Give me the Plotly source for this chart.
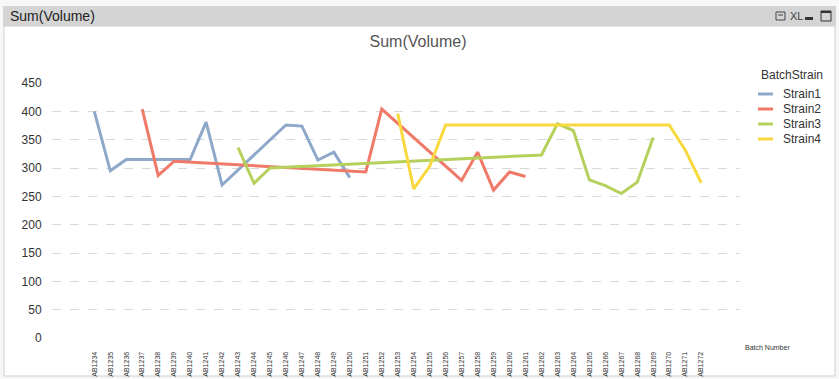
import plotly.graph_objects as go

categories = ["AB1234", "AB1235", "AB1236", "AB1237", "AB1238", "AB1239", "AB1240",
              "AB1241", "AB1242", "AB1243", "AB1244", "AB1245", "AB1246", "AB1247",
              "AB1248", "AB1249", "AB1250", "AB1251", "AB1252", "AB1253", "AB1254",
              "AB1255", "AB1256", "AB1257", "AB1258", "AB1259", "AB1260", "AB1261",
              "AB1262", "AB1263", "AB1264", "AB1265", "AB1266", "AB1267", "AB1268",
              "AB1269", "AB1270", "AB1271", "AB1272"]

strain1_x = ["AB1234", "AB1235", "AB1236", "AB1237", "AB1238", "AB1239", "AB1240",
             "AB1241", "AB1242", "AB1246", "AB1247", "AB1248", "AB1249", "AB1250"]
strain1_y = [400, 295, 315, 315, 315, 315, 315, 381, 270, 376, 374, 314, 328, 283]

strain2_x = ["AB1237", "AB1238", "AB1239", "AB1251", "AB1252", "AB1257", "AB1258",
             "AB1259", "AB1260", "AB1261"]
strain2_y = [404, 287, 312, 293, 404, 278, 328, 261, 293, 285]

strain3_x = ["AB1243", "AB1244", "AB1245", "AB1262", "AB1263", "AB1264", "AB1265",
             "AB1266", "AB1267", "AB1268", "AB1269"]
strain3_y = [336, 273, 300, 323, 378, 366, 279, 269, 255, 275, 354]

strain4_x = ["AB1253", "AB1254", "AB1255", "AB1256", "AB1270", "AB1271", "AB1272"]
strain4_y = [396, 263, 303, 376, 376, 332, 274]

y_ticks = [0, 50, 100, 150, 200, 250, 300, 350, 400, 450]

series_names = ["Strain1", "Strain2", "Strain3", "Strain4"]
series_colors = ["#8DA8C8", "#F07A69", "#B6D05C", "#F7D83E"]
series_x = [strain1_x, strain2_x, strain3_x, strain4_x]
series_y = [strain1_y, strain2_y, strain3_y, strain4_y]

W, H = 839, 379
L, R, T, B = 52, 740, 83, 338  # plot area in pixels

def px(x):
    return (x - L) / (R - L)

def py(y):
    return (B - y) / (B - T)

fig = go.Figure()
for name, xs, ys, color in zip(series_names, series_x, series_y, series_colors):
    fig.add_trace(go.Scatter(x=xs, y=ys, name=name, mode="lines", showlegend=False,
                             line=dict(color=color, width=3), connectgaps=True))

shapes = [
    dict(type="rect", xref="paper", yref="paper", x0=px(4), x1=px(835), y0=py(376), y1=py(26),
         fillcolor="white", line=dict(color="#cfcfcf", width=1), layer="below"),
    dict(type="rect", xref="paper", yref="paper", x0=px(3), x1=px(836), y0=py(26), y1=py(6),
         fillcolor="#d4d4d4", line=dict(width=0), layer="below"),
    dict(type="rect", xref="paper", yref="paper", x0=px(776), x1=px(785), y0=py(20), y1=py(12),
         fillcolor="rgba(0,0,0,0)", line=dict(color="#444", width=1), layer="above"),
    dict(type="line", xref="paper", yref="paper", x0=px(778), x1=px(783), y0=py(15), y1=py(15),
         line=dict(color="#444", width=1), layer="above"),
    dict(type="rect", xref="paper", yref="paper", x0=px(805), x1=px(813), y0=py(20), y1=py(17),
         fillcolor="#333", line=dict(width=0), layer="above"),
    dict(type="rect", xref="paper", yref="paper", x0=px(821), x1=px(831), y0=py(21), y1=py(11),
         fillcolor="rgba(0,0,0,0)", line=dict(color="#333", width=1), layer="above"),
    dict(type="rect", xref="paper", yref="paper", x0=px(821), x1=px(831), y0=py(13), y1=py(11),
         fillcolor="#333", line=dict(width=0), layer="above"),
]

annotations = [
    dict(text="Sum(Volume)", xref="paper", yref="paper", x=px(8), y=py(16), xanchor="left",
         yanchor="middle", showarrow=False, font=dict(family="Arial", size=14, color="#222")),
    dict(text="XL", xref="paper", yref="paper", x=px(796), y=py(16), xanchor="center",
         yanchor="middle", showarrow=False, font=dict(family="Arial", size=11, color="#444")),
    dict(text="Batch Number", xref="paper", yref="paper", x=px(743), y=py(347), xanchor="left",
         yanchor="middle", showarrow=False, font=dict(family="Arial", size=7, color="#333")),
    dict(text="BatchStrain", xref="paper", yref="paper", x=px(759), y=py(75), xanchor="left",
         yanchor="middle", showarrow=False, font=dict(family="Arial", size=12, color="#333")),
]

# manual legend (compact row spacing like the reference)
for i, (name, color) in enumerate(zip(series_names, series_colors)):
    yy = 94 + 15 * i
    shapes.append(dict(type="line", xref="paper", yref="paper", x0=px(758), x1=px(773),
                       y0=py(yy), y1=py(yy), line=dict(color=color, width=3), layer="above"))
    annotations.append(dict(text=name, xref="paper", yref="paper", x=px(781), y=py(yy),
                            xanchor="left", yanchor="middle", showarrow=False,
                            font=dict(family="Arial", size=12, color="#333")))

fig.update_layout(
    width=W, height=H,
    margin=dict(l=L, r=W - R, t=T, b=H - B, pad=0, autoexpand=False),
    paper_bgcolor="#f7f7f7",
    plot_bgcolor="rgba(0,0,0,0)",
    title=dict(text="Sum(Volume)", x=418 / W, y=1 - 41 / H, xanchor="center", yanchor="middle",
               font=dict(family="Arial", size=16, color="#555")),
    font=dict(family="Arial", color="#333"),
    showlegend=False,
    xaxis=dict(type="category", categoryorder="array", categoryarray=categories,
               tickvals=categories, ticktext=categories,
               range=[(L - 94.3) / 15.97, (R - 94.3) / 15.97],
               tickangle=-90, tickfont=dict(size=7, color="#333"),
               showgrid=False, zeroline=False, showline=False, automargin=False,
               ticks="outside", ticklen=10, tickcolor="rgba(0,0,0,0)"),
    yaxis=dict(range=[0, 450], tickvals=y_ticks, tickfont=dict(size=12, color="#333"),
               showgrid=True, gridcolor="#d9d9d9", griddash="dash", gridwidth=1,
               zeroline=False, showline=False, automargin=False,
               ticks="outside", ticklen=7, tickcolor="rgba(0,0,0,0)"),
    shapes=shapes,
    annotations=annotations,
)

fig.write_html("out.html", config={"displayModeBar": False},
               post_script="document.body.style.margin='0';document.body.style.overflow='hidden';")
